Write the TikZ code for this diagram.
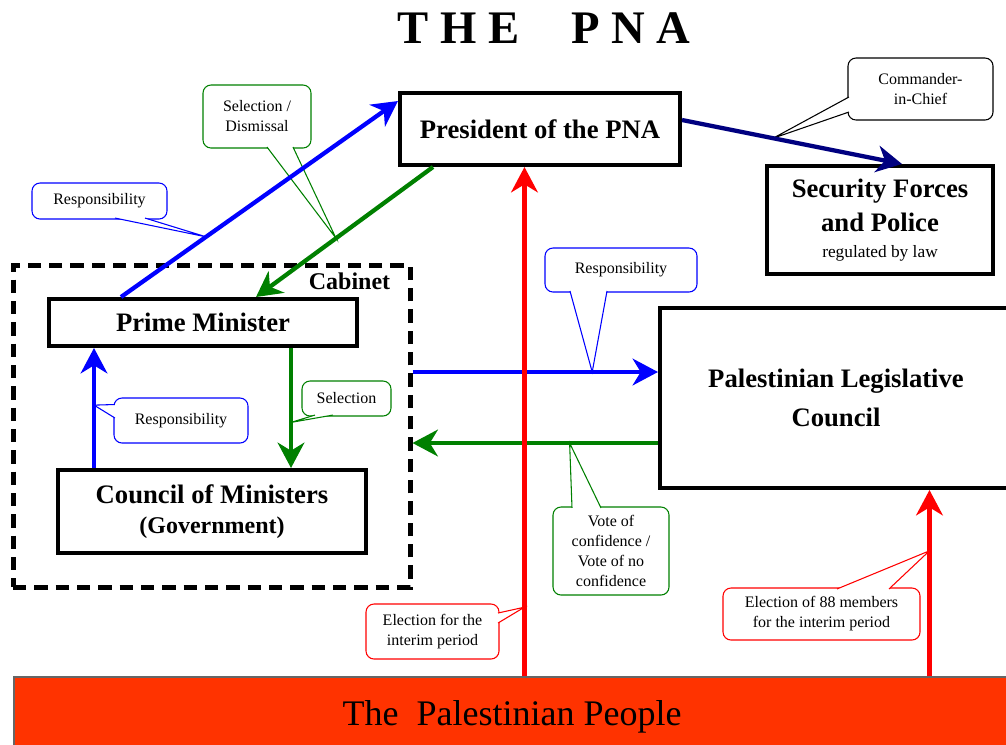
\documentclass[tikz,border=0pt]{standalone}
\usepackage{fontspec}
\setmainfont{Liberation Serif}
\usepackage{tikz}
\usetikzlibrary{calc}
\usetikzlibrary{arrows.meta}
\usetikzlibrary{backgrounds}
\definecolor{pnablue}{RGB}{0,0,255}
\definecolor{pnagreen}{RGB}{0,128,0}
\definecolor{pnanavy}{RGB}{0,0,128}
\definecolor{pnared}{RGB}{255,0,0}
\definecolor{peoplefill}{RGB}{255,51,0}
\tikzset{
    block/.style = {draw, rectangle, line width=3pt, inner sep=0pt,
        align=center, font=\fontsize{20}{25}\selectfont\bfseries},
    bubble/.style = {draw, rectangle, rounded corners=6pt, line width=0.8pt,
        fill=white, inner sep=0pt, align=center,
        font=\fontsize{12}{15}\selectfont},
    tail/.style = {line width=0.8pt, draw=#1, fill=white},
    flow/.style = {draw, ->, line width=3.2pt},
    cabinet/.style = {draw, rectangle, line width=3.75pt,
        dash pattern=on 10pt off 6pt}
}

\begin{document}
\begin{tikzpicture}[x=0.75pt, y=-0.75pt, >={Stealth[length=19pt,width=20pt,inset=6pt]}]
    \useasboundingbox (0,0) rectangle (1006,744);

    \node [inner sep=0pt, font=\fontsize{35}{40}\selectfont\bfseries] (title) at (544,28) {T H E\hspace{39pt}P N A};

    \node [cabinet, minimum width=297.75pt, minimum height=241.5pt] (cab) at (211.5,426) {};
    \node [inner sep=0pt, anchor=north east, font=\fontsize{18}{20}\selectfont\bfseries] (cablabel) at ($(cab.north east)+(-22,10)$) {Cabinet};

    \node [block, minimum width=210pt, minimum height=54pt] (pres) at (540,129) {President of the PNA};
    \node [block, minimum width=169.5pt, minimum height=81pt] (sec) at (880,220) {Security Forces\\and Police\\[-5.5pt]{\fontsize{13}{16}\selectfont\mdseries regulated by law}};
    \node [block, minimum width=231pt, minimum height=35.25pt] (pm) at (203,322.5) {Prime Minister};
    \node [block, minimum width=231pt, minimum height=62.25pt] (com) at (212,511.5) {Council of Ministers\\[-2pt]{\fontsize{18}{22}\selectfont (Government)}};
    \node [block, minimum width=264pt, minimum height=135pt] (plc) at (836,398) {Palestinian Legislative\\[4pt]Council};
    \node [draw=black!60, line width=0.8pt, fill=peoplefill, minimum width=747pt, minimum height=60pt, font=\fontsize{27}{30}\selectfont] (people) at (512,717) {The\ \ Palestinian People};

    % arrows
    \draw [flow, pnablue] ($(pm.north west)+(74,0)$) -- coordinate[pos=0.307] (respA) ($(pres.north west)+(0,10)$);
    \draw [flow, pnagreen] ($(pres.south west)+(35,0)$) -- coordinate[pos=0.548] (selA) ($(pm.north west)+(209,0)$);
    \draw [flow, pnanavy] ($(pres.east)+(0,-9)$) -- coordinate[pos=0.414] (cmdA) ($(sec.north)+(22,0)$);
    \draw [flow, pnablue] ($(com.north west)+(38,0)$) coordinate (comB) -- coordinate[pos=0.524] (respB) (comB |- pm.south);
    \draw [flow, pnagreen] ($(pm.south west)+(244,0)$) coordinate (pmG) -- coordinate[pos=0.62] (selB) (pmG |- com.north);
    \draw [flow, pnablue] ($(cab.east)+(0,-54)$) coordinate (cabB) -- coordinate[pos=0.732] (respC) (cabB -| plc.west);
    \draw [flow, pnagreen] ($(plc.west)+(0,45)$) coordinate (plcG) -- coordinate[pos=0.36] (voteA) (plcG -| cab.east);
    \draw [flow, pnared] ($(people.north west)+(511,0)$) coordinate (pplA) -- coordinate[pos=0.136] (elecA) (pplA |- pres.south);
    \draw [flow, pnared] ($(people.north west)+(916,0)$) coordinate (pplB) -- coordinate[pos=0.674] (elecB) (pplB |- plc.south);

    % callouts
    \begin{scope}[on background layer]
        \node [bubble, draw=pnablue, minimum width=101.25pt, minimum height=27pt] (respbub1) at (99.5,201) {Responsibility};
        \draw [tail=pnablue] ($(respbub1.south)+(15.5,-1.5)$) -- (respA) -- ($(respbub1.south)+(45.5,-1.5)$);
        \node [bubble, draw=pnagreen, minimum width=81pt, minimum height=47.25pt] (selbub1) at (257,116.5) {Selection /\\Dismissal};
        \draw [tail=pnagreen] ($(selbub1.south)+(10,-1.5)$) -- (selA) -- ($(selbub1.south)+(36,-1.5)$);
        \node [bubble, draw=black, minimum width=108.75pt, minimum height=46.5pt] (cmdbub) at (920.5,89) {Commander-\\in-Chief};
        \draw [tail=black] ($(cmdbub.west)+(1.5,8)$) -- (cmdA) -- ($(cmdbub.west)+(1.5,23)$);
        \node [bubble, draw=pnablue, minimum width=100.5pt, minimum height=33.75pt] (respbub2) at (181,420.5) {Responsibility};
        \draw [tail=pnablue] ($(respbub2.west)+(1.5,-16)$) -- (respB) -- ($(respbub2.west)+(1.5,-2.5)$);
        \node [bubble, draw=pnagreen, minimum width=66.75pt, minimum height=26.25pt] (selbub2) at (346.5,398.5) {Selection};
        \draw [tail=pnagreen] ($(selbub2.south)+(-31.5,-1.5)$) -- (selB) -- ($(selbub2.south)+(-13.5,-1.5)$);
        \node [bubble, draw=pnablue, minimum width=114pt, minimum height=33pt] (respbub3) at (621,270) {Responsibility};
        \draw [tail=pnablue] ($(respbub3.south)+(-51,-1.5)$) -- (respC) -- ($(respbub3.south)+(-14,-1.5)$);
        \node [bubble, draw=pnagreen, minimum width=87pt, minimum height=66pt] (votebub) at (611,551) {Vote of\\confidence /\\Vote of no\\confidence};
        \draw [tail=pnagreen] ($(votebub.north)+(-39,1.5)$) -- (voteA) -- ($(votebub.north)+(-10,1.5)$);
        \node [bubble, draw=pnared, minimum width=99.75pt, minimum height=41.25pt] (elecbub1) at (432.5,631.5) {Election for the\\interim period};
        \draw [tail=pnared] ($(elecbub1.east)+(-1.5,-18.5)$) -- (elecA) -- ($(elecbub1.east)+(-1.5,-8.5)$);
        \node [bubble, draw=pnared, minimum width=147.75pt, minimum height=39pt] (elecbub2) at (821.5,614) {Election of 88 members\\for the interim period};
        \draw [tail=pnared] ($(elecbub2.north)+(15.5,1.5)$) -- (elecB) -- ($(elecbub2.north)+(67.5,1.5)$);
    \end{scope}
\end{tikzpicture}
\end{document}
